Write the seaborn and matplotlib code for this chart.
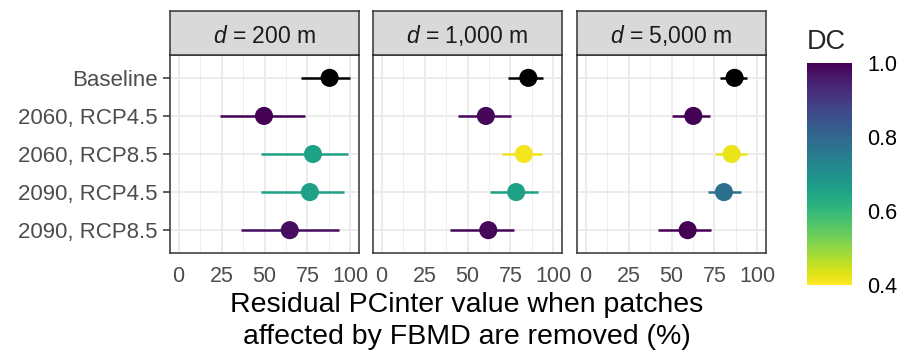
import numpy as np
import pandas as pd
import matplotlib
import matplotlib.pyplot as plt
import seaborn as sns

# data
scenarios = ["Baseline", "2060, RCP4.5", "2060, RCP8.5", "2090, RCP4.5", "2090, RCP8.5"]
distances = ["200 m", "1,000 m", "5,000 m"]

mean_200 = [87.9, 49.7, 78.2, 76.4, 64.7]
lo_200 = [71.5, 24.2, 48.0, 48.0, 36.6]
hi_200 = [99.6, 73.3, 98.4, 96.1, 93.4]
dc_200 = [np.nan, 1.0, 0.66, 0.66, 0.98]

mean_1000 = [85.4, 60.7, 82.8, 78.3, 62.1]
lo_1000 = [73.6, 44.7, 69.9, 62.9, 40.0]
hi_1000 = [94.0, 75.6, 93.6, 91.0, 77.3]
dc_1000 = [np.nan, 0.99, 0.41, 0.66, 0.99]

mean_5000 = [86.7, 62.7, 85.0, 80.5, 59.4]
lo_5000 = [78.5, 50.4, 75.6, 71.1, 42.2]
hi_5000 = [94.1, 72.5, 93.8, 90.4, 72.7]
dc_5000 = [np.nan, 1.0, 0.42, 0.78, 1.0]

x_ticks = [0, 25, 50, 75, 100]
dc_ticks = [0.4, 0.6, 0.8, 1.0]

# build long table
rows = []
for d, m, lo, hi, dc in zip(distances,
                            [mean_200, mean_1000, mean_5000],
                            [lo_200, lo_1000, lo_5000],
                            [hi_200, hi_1000, hi_5000],
                            [dc_200, dc_1000, dc_5000]):
    for i, s in enumerate(scenarios):
        rows.append({"d": d, "scenario": s, "pos": i, "mean": m[i],
                     "lo": lo[i], "hi": hi[i], "DC": dc[i]})
df = pd.DataFrame(rows)

sns.set_style("white")
plt.rcParams["font.family"] = ["Liberation Sans", "DejaVu Sans"]
plt.rcParams["mathtext.fontset"] = "custom"
plt.rcParams["mathtext.it"] = "Liberation Sans:italic"
plt.rcParams["mathtext.rm"] = "Liberation Sans"

cmap = plt.get_cmap("viridis_r")
norm = matplotlib.colors.Normalize(vmin=0.4, vmax=1.0)

W, H = 909, 351
fig = plt.figure(figsize=(W / 100, H / 100), dpi=100)

panel_x = [170, 373, 577]
panel_w = 189
p_top, p_bot = 55, 253
s_top = 11

for k, d in enumerate(distances):
    ax = fig.add_axes([panel_x[k] / W, 1 - p_bot / H, panel_w / W, (p_bot - p_top) / H])
    sub = df[df["d"] == d]
    # grid
    for v in [12.5, 37.5, 62.5, 87.5]:
        ax.axvline(v, color="#ebebeb", lw=0.6, zorder=0)
    for v in x_ticks:
        ax.axvline(v, color="#ebebeb", lw=1.3, zorder=0)
    for p in sub["pos"]:
        ax.axhline(p, color="#ebebeb", lw=1.3, zorder=0)
    # error bars
    cols = ["black" if np.isnan(c) else cmap(norm(c)) for c in sub["DC"]]
    ax.hlines(sub["pos"], sub["lo"], sub["hi"], colors=cols, lw=1.8, zorder=2)
    # points
    base = sub[sub["DC"].isna()]
    rest = sub[sub["DC"].notna()]
    sns.scatterplot(data=base, x="mean", y="pos", color="black", s=170,
                    edgecolor="none", legend=False, ax=ax, zorder=3)
    sns.scatterplot(data=rest, x="mean", y="pos", hue="DC", palette="viridis_r",
                    hue_norm=(0.4, 1.0), s=170, edgecolor="none", legend=False,
                    ax=ax, zorder=3)
    ax.set_xlim(-5, 105)
    ax.set_ylim(4.6, -0.6)
    ax.set_xticks(x_ticks)
    ax.set_xticklabels([str(t) for t in x_ticks])
    ax.set_yticks(range(len(scenarios)))
    ax.set_yticklabels(scenarios if k == 0 else [])
    ax.set_xlabel("")
    ax.set_ylabel("")
    ax.tick_params(axis="x", direction="out", length=5, width=1.1,
                   color="#333333", labelcolor="#4d4d4d", labelsize=15.5, pad=4)
    ax.tick_params(axis="y", direction="out", length=5, width=1.1, left=(k == 0),
                   color="#333333", labelcolor="#4d4d4d", labelsize=16, pad=4)
    for sp in ax.spines.values():
        sp.set_color("#333333")
        sp.set_linewidth(1.1)
        sp.set_visible(True)
    # strip
    sx = fig.add_axes([panel_x[k] / W, 1 - p_top / H, panel_w / W, (p_top - s_top) / H])
    sx.set_facecolor("#d9d9d9")
    sx.set_xticks([])
    sx.set_yticks([])
    for sp in sx.spines.values():
        sp.set_color("#333333")
        sp.set_linewidth(1.1)
        sp.set_visible(True)
    sx.text(0.5, (p_top - 43) / (p_top - s_top), r"$\it{d}$ = " + d,
            ha="center", va="baseline", fontsize=16.5, color="#1a1a1a",
            transform=sx.transAxes)

# axis title
fig.text(467 / W, 1 - 292 / H,
         "Residual PCinter value when patches\naffected by FBMD are removed (%)",
         ha="center", va="top", fontsize=20.5, linespacing=1.28, color="black")

# colour bar
cax = fig.add_axes([807 / W, 1 - 285 / H, 45 / W, 222 / H])
sm = matplotlib.cm.ScalarMappable(norm=norm, cmap=cmap)
cb = fig.colorbar(sm, cax=cax, ticks=dc_ticks)
cb.outline.set_visible(False)
cb.ax.set_yticklabels([f"{t:.1f}" for t in dc_ticks])
cax.tick_params(axis="y", which="both", direction="in", left=True, right=True,
                length=6, width=1, color="white", labelsize=15.5,
                labelcolor="black", pad=11)
fig.text(807 / W, 1 - 49 / H, "DC", ha="left", va="baseline", fontsize=19.5)

fig.savefig("out.png", dpi=100)
